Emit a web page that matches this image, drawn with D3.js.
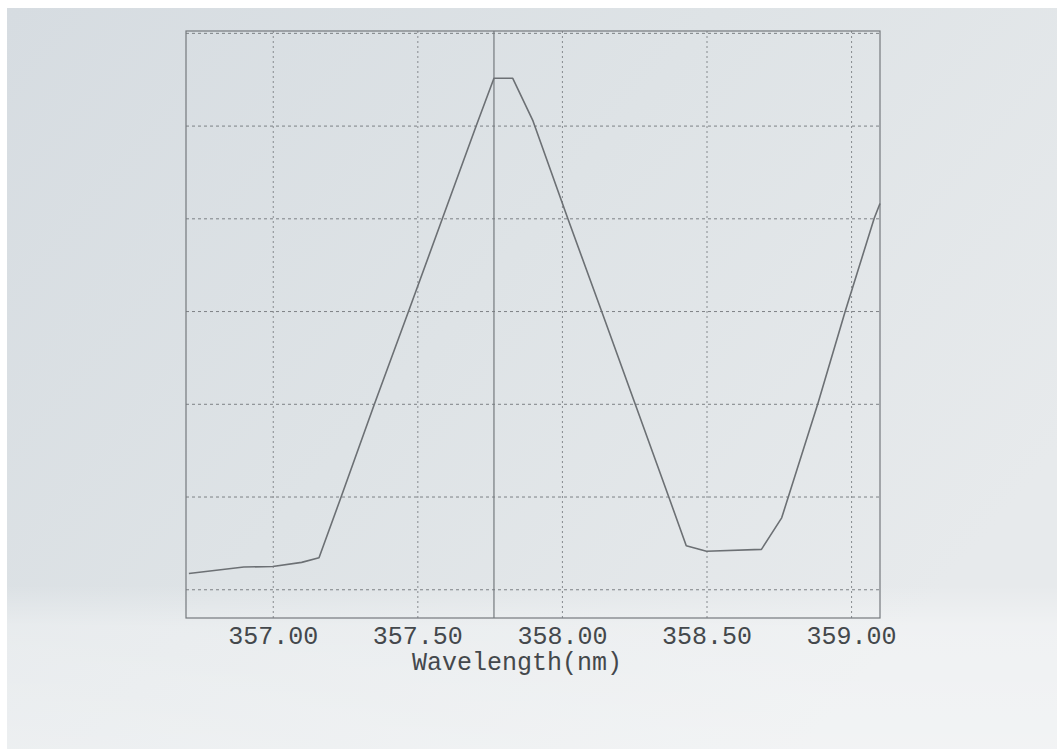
<!DOCTYPE html>
<html>
<head>
<meta charset="utf-8">
<script src="https://cdn.jsdelivr.net/npm/d3@7"></script>
<style>
  html, body { margin: 0; padding: 0; background: #ffffff; }
  svg { display: block; }
</style>
</head>
<body>
<div id="chart"></div>
<script>
'use strict';

// Scan readings (intensity in grid units, no y labels on the printout)
const wavelengths = [356.71, 356.90, 357.00, 357.10, 357.16, 357.237, 357.352, 357.47, 357.587, 357.704,
                     357.765, 357.83, 357.90, 358.02, 358.137, 358.253, 358.369, 358.43, 358.50, 358.69,
                     358.76, 358.885, 358.98, 359.08, 359.10];
const intensity   = [0.17, 0.24, 0.245, 0.29, 0.34, 1.0, 2.0, 3.0, 4.0, 5.0,
                     5.51, 5.51, 5.05, 4.0, 3.0, 2.0, 1.0, 0.47, 0.41, 0.43,
                     0.77, 2.0, 3.0, 4.0, 4.16];

const xTicks = [357.00, 357.50, 358.00, 358.50, 359.00];
const yGrid = [0, 1, 2, 3, 4, 5, 6];
const markerWavelength = 357.765;
const xTitle = "Wavelength(nm)";

(function() {
    const W = 1057, H = 749;
    const left = 186, right = 880, top = 31, bottom = 618;

    const svg = d3.select("#chart").append("svg")
        .attr("width", W)
        .attr("height", H);

    // paper background
    const defs = svg.append("defs");
    const grad = defs.append("linearGradient")
        .attr("id", "paper")
        .attr("x1", "0").attr("y1", "0")
        .attr("x2", "1").attr("y2", "0.6");
    grad.append("stop").attr("offset", "0").attr("stop-color", "#d6dce1");
    grad.append("stop").attr("offset", "0.5").attr("stop-color", "#dee3e6");
    grad.append("stop").attr("offset", "1").attr("stop-color", "#e7eaec");

    const fold = defs.append("linearGradient")
        .attr("id", "fold")
        .attr("x1", "0").attr("y1", "0")
        .attr("x2", "0").attr("y2", "1");
    fold.append("stop").attr("offset", "0").attr("stop-color", "#ffffff").attr("stop-opacity", 0);
    fold.append("stop").attr("offset", "0.25").attr("stop-color", "#ffffff").attr("stop-opacity", 0.35);
    fold.append("stop").attr("offset", "1").attr("stop-color", "#ffffff").attr("stop-opacity", 0.45);

    svg.append("rect")
        .attr("x", 7).attr("y", 8)
        .attr("width", W - 7).attr("height", H - 8)
        .attr("fill", "url(#paper)");

    // lighter paper below the fold
    svg.append("rect")
        .attr("x", 7).attr("y", 585)
        .attr("width", W - 7).attr("height", H - 585)
        .attr("fill", "url(#fold)");

    const x = d3.scaleLinear()
        .domain([356.70, 359.10])
        .range([left, right]);

    const y = d3.scaleLinear()
        .domain([-0.31, 6.02])
        .range([bottom, top]);

    const g = svg.append("g");

    // vertical dashed grid
    g.append("g")
        .attr("transform", "translate(0," + bottom + ")")
        .call(d3.axisBottom(x).tickValues(xTicks).tickSize(-(bottom - top)).tickFormat(""))
        .call(function(a) {
            a.select(".domain").remove();
            a.selectAll("line")
                .attr("stroke", "#868a8e")
                .attr("stroke-width", 1)
                .attr("stroke-dasharray", "2,3");
        });

    // horizontal dashed grid
    g.append("g")
        .attr("transform", "translate(" + left + ",0)")
        .call(d3.axisLeft(y).tickValues(yGrid).tickSize(-(right - left)).tickFormat(""))
        .call(function(a) {
            a.select(".domain").remove();
            a.selectAll("line")
                .attr("stroke", "#7d8185")
                .attr("stroke-width", 1)
                .attr("stroke-dasharray", "3,3");
        });

    // frame
    g.append("rect")
        .attr("x", left).attr("y", top)
        .attr("width", right - left).attr("height", bottom - top)
        .attr("fill", "none")
        .attr("stroke", "#75797d")
        .attr("stroke-width", 1.2);

    // peak marker
    g.append("line")
        .attr("x1", x(markerWavelength)).attr("x2", x(markerWavelength))
        .attr("y1", top).attr("y2", bottom)
        .attr("stroke", "#75797d")
        .attr("stroke-width", 1.2);

    // spectrum
    const points = wavelengths.map(function(w, i) { return [w, intensity[i]]; });
    const line = d3.line()
        .x(function(d) { return x(d[0]); })
        .y(function(d) { return y(d[1]); });

    g.append("path")
        .datum(points)
        .attr("d", line)
        .attr("fill", "none")
        .attr("stroke", "#6c7074")
        .attr("stroke-width", 1.6)
        .attr("stroke-linejoin", "round");

    // tick labels
    const xAxis = g.append("g")
        .attr("transform", "translate(0," + bottom + ")")
        .call(d3.axisBottom(x).tickValues(xTicks).tickSize(0).tickPadding(8)
            .tickFormat(d3.format(".2f")));
    xAxis.select(".domain").remove();
    xAxis.selectAll("text")
        .attr("font-family", "'Liberation Mono', 'DejaVu Sans Mono', monospace")
        .attr("font-size", "25px")
        .attr("fill", "#44484c");

    // axis title
    g.append("text")
        .attr("x", 517)
        .attr("y", 670)
        .attr("text-anchor", "middle")
        .attr("font-family", "'Liberation Mono', 'DejaVu Sans Mono', monospace")
        .attr("font-size", "25px")
        .attr("fill", "#44484c")
        .text(xTitle);
})();
</script>
</body>
</html>
